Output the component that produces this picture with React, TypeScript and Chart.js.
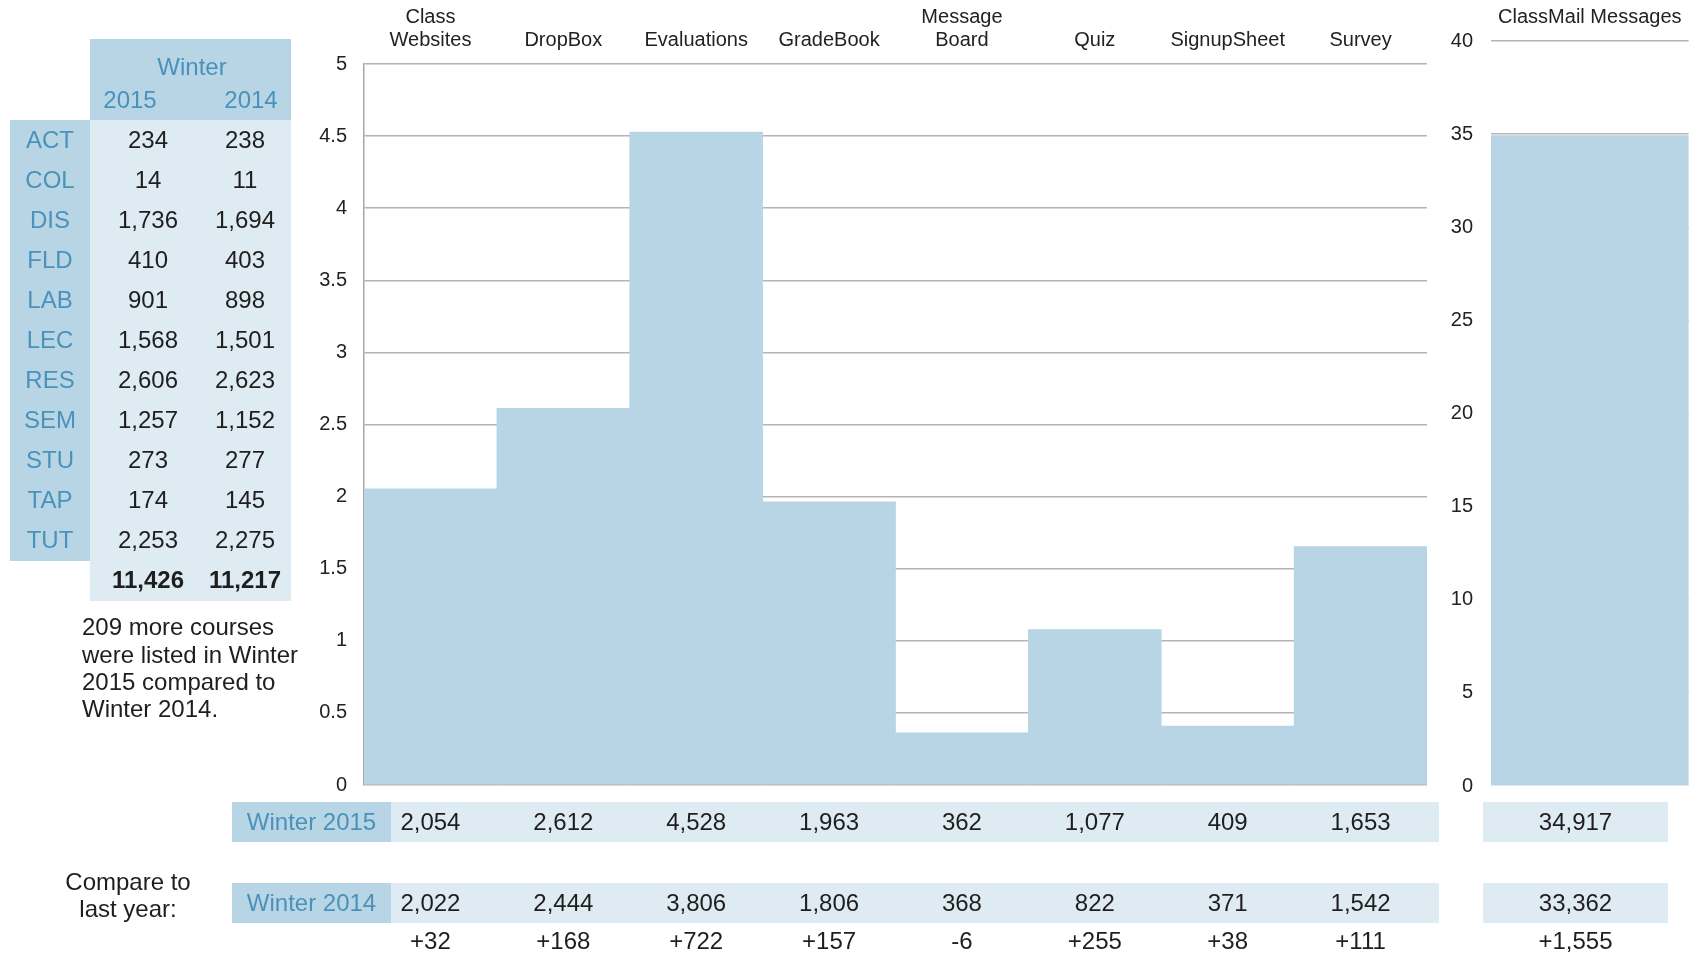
import React, { useEffect, useRef } from 'react';
import { Chart, registerables } from 'chart.js';

Chart.register(...registerables);

// ---------- data ----------
const TOOLS: (string | string[])[] = [
  ['Class', 'Websites'],
  'DropBox',
  'Evaluations',
  'GradeBook',
  ['Message', 'Board'],
  'Quiz',
  'SignupSheet',
  'Survey',
];
const USAGE_2015 = [2054, 2612, 4528, 1963, 362, 1077, 409, 1653];
const USAGE_2014 = [2022, 2444, 3806, 1806, 368, 822, 371, 1542];

const CLASSMAIL_LABEL = 'ClassMail Messages';
const CLASSMAIL_2015 = 34917;
const CLASSMAIL_2014 = 33362;

const COURSE_TYPES = ['ACT', 'COL', 'DIS', 'FLD', 'LAB', 'LEC', 'RES', 'SEM', 'STU', 'TAP', 'TUT'];
const COURSES_2015 = [234, 14, 1736, 410, 901, 1568, 2606, 1257, 273, 174, 2253];
const COURSES_2014 = [238, 11, 1694, 403, 898, 1501, 2623, 1152, 277, 145, 2275];

const TABLE_HEADER = 'Winter';
const YEAR_LABELS = ['2015', '2014'];
const ROW_LABELS = ['Winter 2015', 'Winter 2014'];
const COMPARE_LINES = ['Compare to', 'last year:'];
const NOTE_LINES = ['209 more courses', 'were listed in Winter', '2015 compared to', 'Winter 2014.'];

const MAIN_Y_MAX = 5;
const MAIN_Y_STEP = 0.5;
const MAIL_Y_MAX = 40;
const MAIL_Y_STEP = 5;

// ---------- styles ----------
const FONT = '"Liberation Sans", Arial, Helvetica, sans-serif';
const DARK = '#b8d5e6';
const LIGHT = '#deebf2';
const BLUE = '#4b92ba';
const TEXT = '#1e1e1e';
const GRID = '#b4b4b4';

const fmt = (n: number) => n.toLocaleString('en-US');
const fmtDiff = (d: number) => (d >= 0 ? '+' + fmt(d) : '-' + fmt(-d));

const sum = (a: number[]) => a.reduce((s, v) => s + v, 0);

const tablePlugin = {
  id: 'tables',
  afterDraw(chart: any) {
    const ctx: CanvasRenderingContext2D = chart.ctx;
    const xs = chart.scales.x;
    ctx.save();

    // ---- left table ----
    ctx.fillStyle = DARK;
    ctx.fillRect(90, 39, 201, 81);
    ctx.fillRect(10, 120, 80, 441);
    ctx.fillStyle = LIGHT;
    ctx.fillRect(90, 120, 201, 481);

    ctx.textBaseline = 'middle';
    ctx.textAlign = 'center';
    ctx.font = `24px ${FONT}`;
    ctx.fillStyle = BLUE;
    ctx.fillText(TABLE_HEADER, 192, 68);
    ctx.fillText(YEAR_LABELS[0], 130, 101);
    ctx.fillText(YEAR_LABELS[1], 251, 101);

    COURSE_TYPES.forEach((t, i) => {
      const y = 141.5 + i * 40;
      ctx.fillStyle = BLUE;
      ctx.fillText(t, 50, y);
      ctx.fillStyle = TEXT;
      ctx.fillText(fmt(COURSES_2015[i]), 148, y);
      ctx.fillText(fmt(COURSES_2014[i]), 245, y);
    });
    ctx.font = `bold 24px ${FONT}`;
    ctx.fillStyle = TEXT;
    const totY = 141 + COURSE_TYPES.length * 40;
    ctx.fillText(fmt(sum(COURSES_2015)), 148, totY);
    ctx.fillText(fmt(sum(COURSES_2014)), 245, totY);

    // note
    ctx.font = `24px ${FONT}`;
    ctx.textAlign = 'left';
    NOTE_LINES.forEach((l, i) => ctx.fillText(l, 82, 628.5 + i * 27.4));

    // ---- bottom rows ----
    const rows = [802, 883];
    rows.forEach((top, r) => {
      ctx.fillStyle = DARK;
      ctx.fillRect(232, top, 159, 40);
      ctx.fillStyle = LIGHT;
      ctx.fillRect(391, top, 1048, 40);
      ctx.fillRect(1483, top, 185, 40);
      ctx.fillStyle = BLUE;
      ctx.textAlign = 'center';
      ctx.fillText(ROW_LABELS[r], 311.5, top + 21);
      ctx.fillStyle = TEXT;
      const vals = r === 0 ? USAGE_2015 : USAGE_2014;
      vals.forEach((v, i) => ctx.fillText(fmt(v), xs.getPixelForValue(i), top + 21));
      ctx.fillText(fmt(r === 0 ? CLASSMAIL_2015 : CLASSMAIL_2014), 1575.5, top + 21);
    });
    ctx.fillStyle = TEXT;
    USAGE_2015.forEach((v, i) =>
      ctx.fillText(fmtDiff(v - USAGE_2014[i]), xs.getPixelForValue(i), 942)
    );
    ctx.fillText(fmtDiff(CLASSMAIL_2015 - CLASSMAIL_2014), 1575.5, 942);

    ctx.fillText(COMPARE_LINES[0], 128, 883);
    ctx.fillText(COMPARE_LINES[1], 128, 910);

    ctx.restore();
  },
};

function MainChart() {
  const ref = useRef<HTMLCanvasElement>(null);
  useEffect(() => {
    const chart = new Chart(ref.current!, {
      type: 'bar',
      data: {
        labels: TOOLS as any,
        datasets: [
          {
            data: USAGE_2015.map((v) => v / 1000),
            backgroundColor: DARK,
            borderWidth: 0,
            barPercentage: 1,
            categoryPercentage: 1,
          },
        ],
      },
      options: {
        animation: false,
        responsive: true,
        maintainAspectRatio: false,
        layout: { padding: { left: 304, top: 0, right: 270, bottom: 168 } },
        plugins: { legend: { display: false }, tooltip: { enabled: false } },
        scales: {
          x: {
            position: 'top',
            grid: { display: false, drawTicks: false },
            border: { display: false },
            ticks: {
              autoSkip: false,
              maxRotation: 0,
              minRotation: 0,
              padding: 12.5,
              color: '#222',
              font: { family: FONT, size: 20, lineHeight: 1.15 },
            },
            afterFit: (s: any) => {
              s.height = 64;
            },
          },
          y: {
            min: 0,
            max: MAIN_Y_MAX,
            ticks: {
              stepSize: MAIN_Y_STEP,
              padding: 17,
              color: '#222',
              font: { family: FONT, size: 20 },
              callback: (v: any) => String(v),
            },
            grid: { color: GRID, lineWidth: 1.5, drawTicks: false },
            border: { display: true, color: '#a8a8a8', width: 1.5 },
            afterFit: (s: any) => {
              s.width = 60;
            },
          },
        },
      },
      plugins: [tablePlugin],
    } as any);
    return () => chart.destroy();
  }, []);
  return (
    <div style={{ position: 'absolute', left: 0, top: 0, width: 1697, height: 953 }}>
      <canvas ref={ref} />
    </div>
  );
}

function MailChart() {
  const ref = useRef<HTMLCanvasElement>(null);
  useEffect(() => {
    const chart = new Chart(ref.current!, {
      type: 'bar',
      data: {
        labels: [CLASSMAIL_LABEL],
        datasets: [
          {
            data: [CLASSMAIL_2015 / 1000],
            backgroundColor: DARK,
            borderWidth: 0,
            barPercentage: 1,
            categoryPercentage: 1,
          },
        ],
      },
      options: {
        animation: false,
        responsive: true,
        maintainAspectRatio: false,
        layout: { padding: { left: 11, top: 0, right: 6, bottom: 15 } },
        plugins: { legend: { display: false }, tooltip: { enabled: false } },
        scales: {
          x: {
            position: 'top',
            grid: { display: false, drawTicks: false },
            border: { display: false },
            ticks: {
              autoSkip: false,
              maxRotation: 0,
              padding: 12.5,
              color: '#222',
              font: { family: FONT, size: 20, lineHeight: 1.15 },
            },
            afterFit: (s: any) => {
              s.height = 41;
            },
          },
          y: {
            min: 0,
            max: MAIL_Y_MAX,
            ticks: {
              stepSize: MAIL_Y_STEP,
              padding: 18,
              color: '#222',
              font: { family: FONT, size: 20 },
            },
            grid: {
              color: (c: any) => (c.tick && c.tick.value === 0 ? 'rgba(0,0,0,0)' : GRID),
              lineWidth: 1.5,
              drawTicks: false,
            },
            border: { display: false },
            afterFit: (s: any) => {
              s.width = 40;
            },
          },
        },
      },
    } as any);
    return () => chart.destroy();
  }, []);
  return (
    <div style={{ position: 'absolute', left: 1440, top: 0, width: 257, height: 816 }}>
      <canvas ref={ref} />
    </div>
  );
}

export default function App() {
  return (
    <div
      style={{
        position: 'absolute',
        left: 0,
        top: 0,
        width: 1697,
        height: 953,
        background: '#fff',
        overflow: 'hidden',
      }}
    >
      <MainChart />
      <MailChart />
    </div>
  );
}
